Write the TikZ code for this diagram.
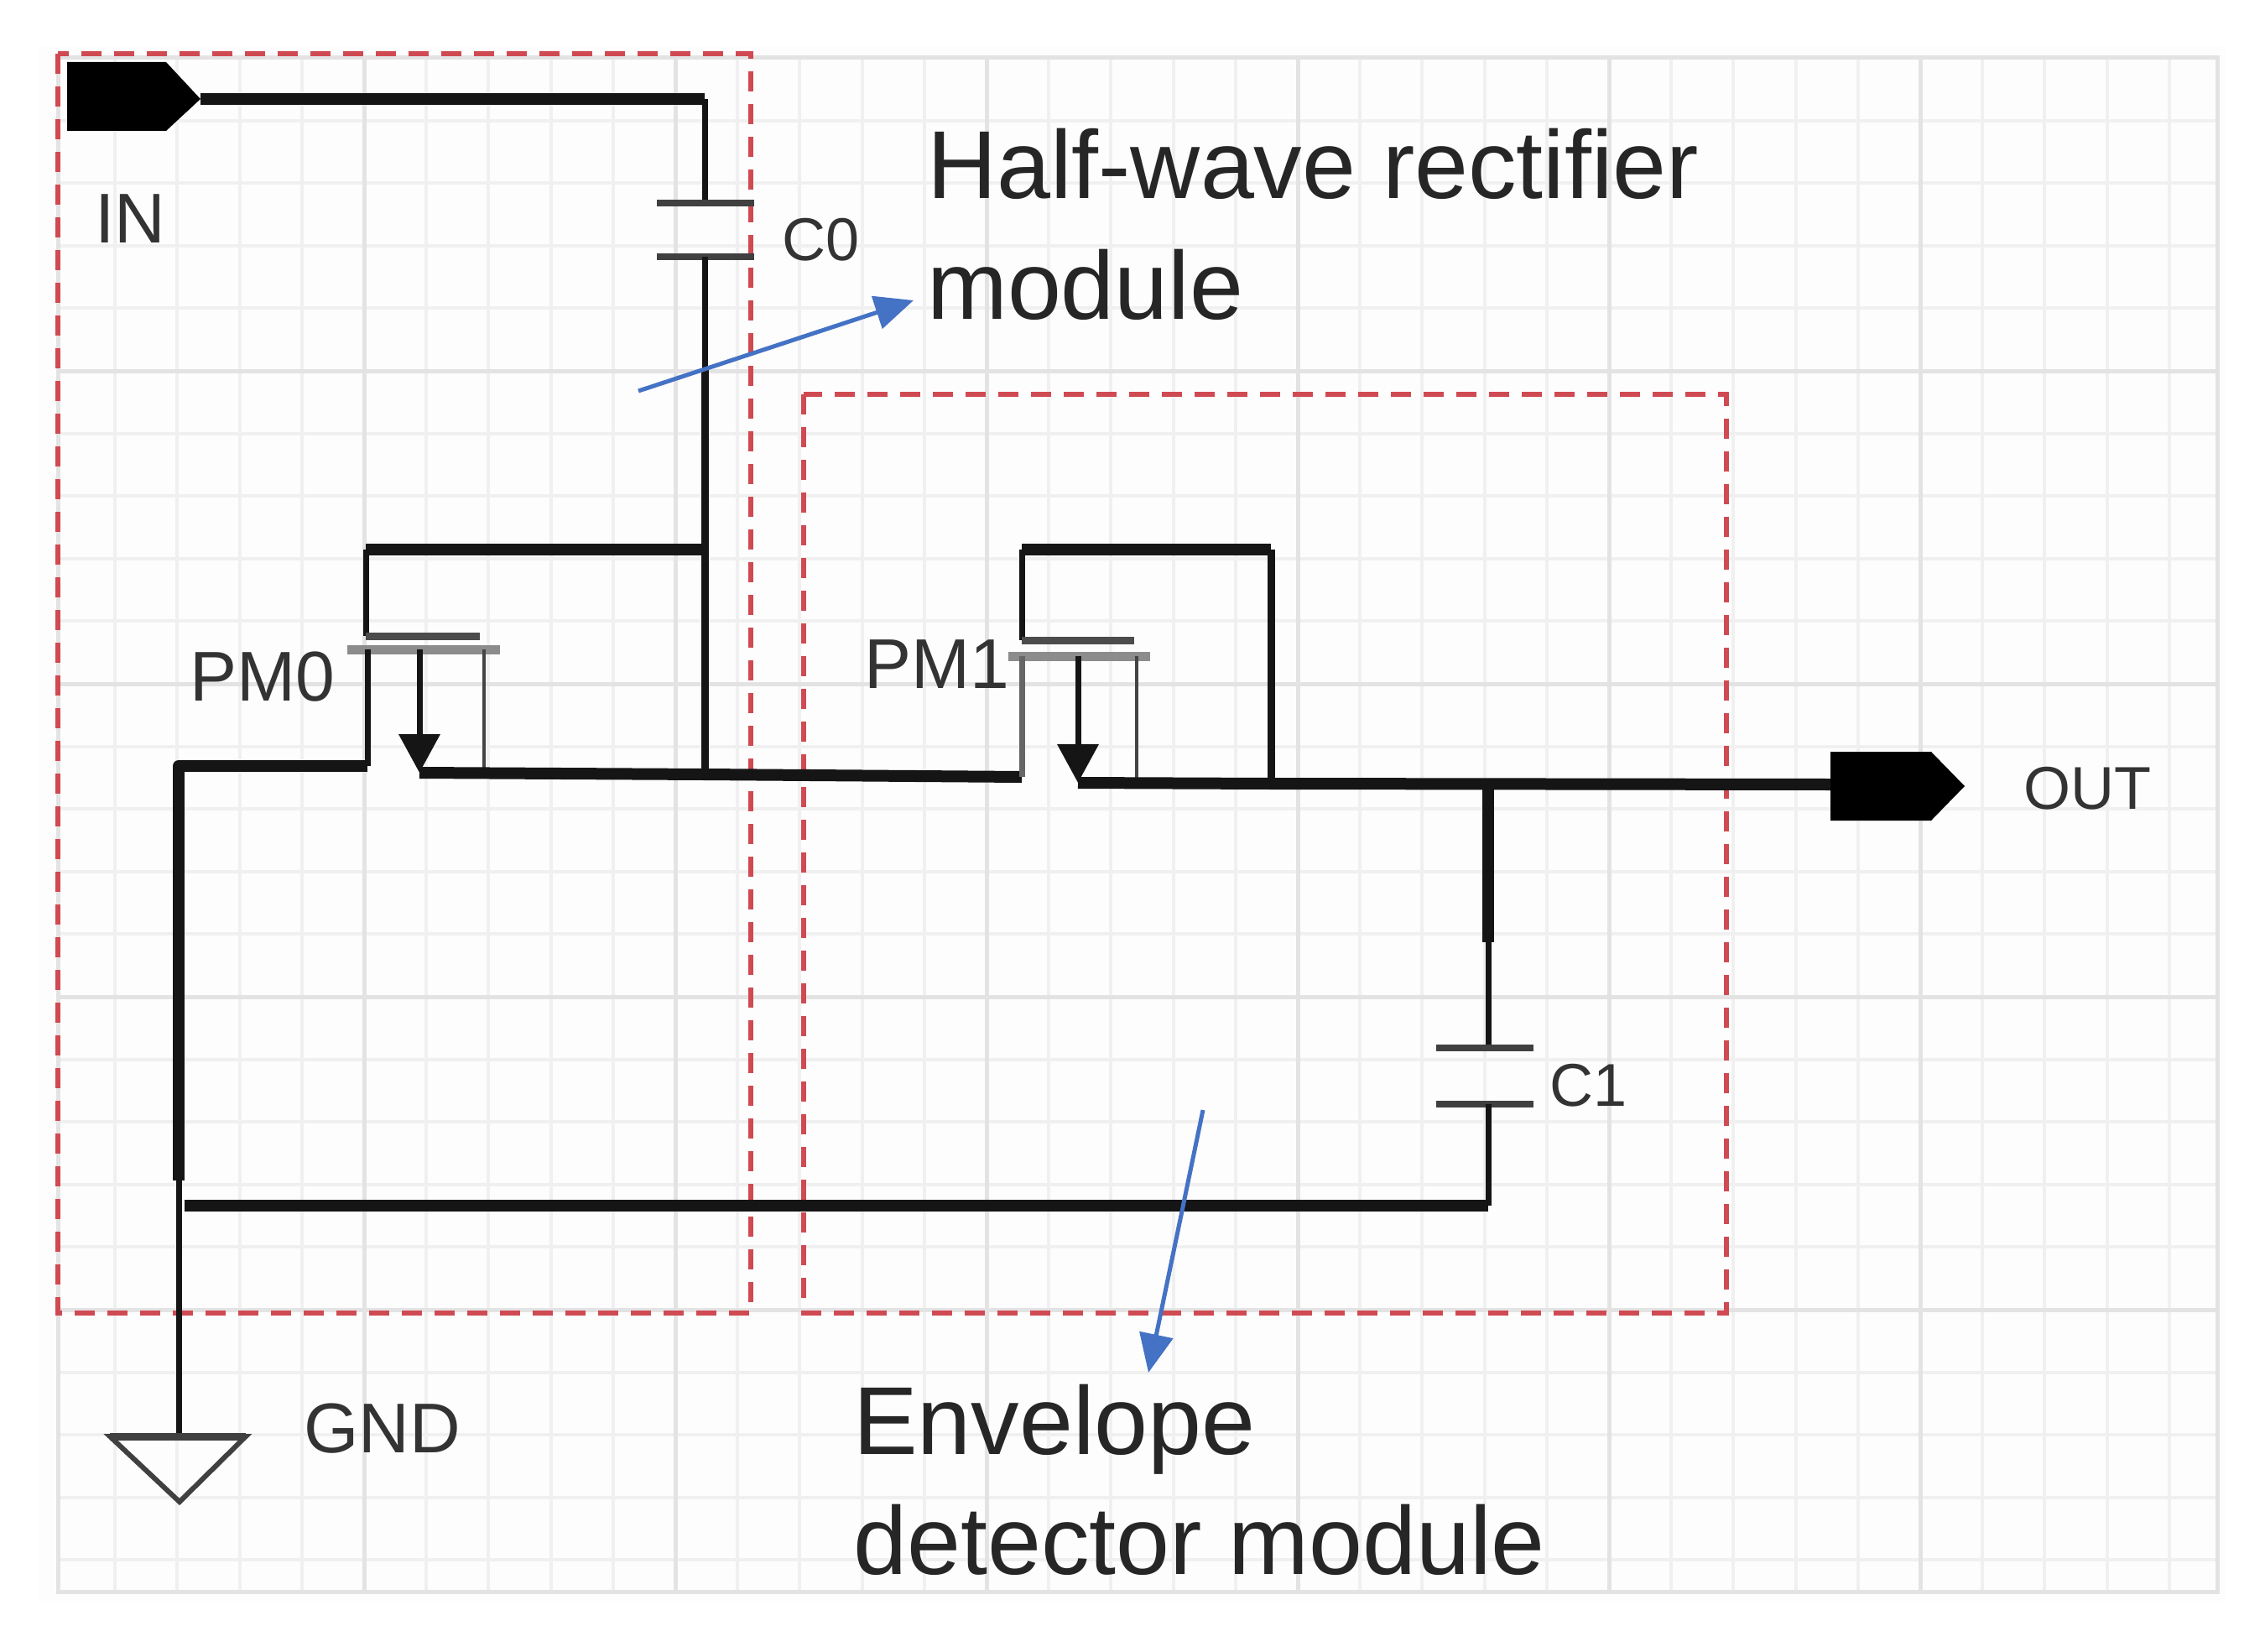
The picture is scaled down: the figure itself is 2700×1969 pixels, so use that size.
\documentclass[tikz,border=0pt]{standalone}
\usepackage{fontspec}
\setmainfont{Liberation Sans}
\usetikzlibrary{arrows.meta}
\definecolor{gridminor}{HTML}{F0F0F0}
\definecolor{gridmajor}{HTML}{E3E3E3}
\definecolor{boxred}{HTML}{CF4A52}
\definecolor{arrowblue}{HTML}{4472C4}
\definecolor{wire}{HTML}{151515}
\definecolor{labelgray}{HTML}{333333}
\tikzset{
  minorgrid/.style={gridminor,line width=4pt},
  majorgrid/.style={gridmajor,line width=5pt},
  modulebox/.style={boxred,line width=6pt,dash pattern=on 24pt off 15pt},
  thickwire/.style={wire,line width=14pt,line join=round},
  thinwire/.style={wire,line width=7pt},
  hairwire/.style={wire!80,line width=4pt},
  plate/.style={black!75,line width=8pt},
  channel/.style={black!45,line width=11pt},
  gatebar/.style={black!70,line width=9pt},
  pin/.style={fill=black,draw=none},
  srcarrow/.style={wire,line width=7pt,-{Triangle[length=46pt,width=48pt]}},
  callout/.style={arrowblue,line width=5pt,-{Triangle[length=46pt,width=40pt]}},
  biglabel/.style={anchor=base west,inner sep=0pt,text=black!85,font=\fontsize{115}{120}\selectfont},
  smalllabel/.style={anchor=base west,inner sep=0pt,text=labelgray,font=\fontsize{84}{90}\selectfont},
  narrowlabel/.style={anchor=base west,inner sep=0pt,text=labelgray,font=\fontsize{72}{80}\selectfont},
}
\begin{document}
\begin{tikzpicture}[x=1pt,y=-1pt]
\useasboundingbox (0,0) rectangle (2700,1969);
\fill[white] (0,0) rectangle (2700,1969);
\fill[black!0.6] (45,55) rectangle (2652,1908);
% grid
\foreach \k in {1,...,34} \draw[minorgrid] ({63+74.2*\k},69) -- ({63+74.2*\k},1897);
\foreach \k in {1,...,24} \draw[minorgrid] (69,{69+74.6*\k}) -- (2643,{69+74.6*\k});
\foreach \k in {5,10,...,30} \draw[majorgrid] ({63+74.2*\k},69) -- ({63+74.2*\k},1897);
\foreach \k in {5,10,15,20} \draw[majorgrid] (69,{69+74.6*\k}) -- (2643,{69+74.6*\k});
\draw[majorgrid] (69,69) rectangle (2643,1897);
% named points
\coordinate (inpin) at (239,118);
\coordinate (c0in) at (840,118);
\coordinate (c0top) at (840,242);
\coordinate (c0bot) at (840,306);
\coordinate (c0mid) at (840,440);
\coordinate (gtie0) at (840,655);
\coordinate (midnode) at (840,923);
\coordinate (g0) at (436,655);
\coordinate (g0b) at (436,758);
\coordinate (d0t) at (438,774);
\coordinate (d0b) at (438,913);
\coordinate (gl) at (213,913);
\coordinate (glm) at (213,1407);
\coordinate (gnd) at (213,1712);
\coordinate (s0t) at (500,774);
\coordinate (s0b) at (500,921);
\coordinate (b0t) at (577,774);
\coordinate (b0b) at (577,921);
\coordinate (d1t) at (1218,782);
\coordinate (d1b) at (1218,926);
\coordinate (g1b) at (1218,763);
\coordinate (g1) at (1218,655);
\coordinate (g1r) at (1515,655);
\coordinate (out1) at (1515,933);
\coordinate (s1t) at (1285,782);
\coordinate (s1b) at (1285,933);
\coordinate (b1t) at (1355,782);
\coordinate (b1b) at (1355,933);
\coordinate (outpin) at (2182,935);
\coordinate (c1j) at (1774,934);
\coordinate (c1m) at (1774,1123);
\coordinate (c1top) at (1774,1249);
\coordinate (c1bot) at (1774,1316);
\coordinate (c1g) at (1774,1437);
\coordinate (grail) at (220,1437);
% module boxes
\node[draw=none,inner sep=0pt] (box1a) at (69,64) {};
\node[draw=none,inner sep=0pt] (box1b) at (895,1565) {};
\node[draw=none,inner sep=0pt] (box2a) at (958,470) {};
\node[draw=none,inner sep=0pt] (box2b) at (2058,1565) {};
\draw[modulebox] (box1a.center) rectangle (box1b.center);
\draw[modulebox] (box2a.center) rectangle (box2b.center);
% IN pin and C0
\fill[pin] (80,74) -- (198,74) -- (inpin) -- (198,156) -- (80,156) -- cycle;
\draw[thickwire] (inpin) -- (c0in);
\draw[thinwire] (c0in) -- (c0top);
\draw[plate] (783,242) -- (899,242);
\draw[plate] (783,306) -- (899,306);
\draw[thinwire] (c0bot) -- (c0mid);
\draw[wire,line width=9pt] (c0mid) -- (midnode);
% PM0
\draw[thickwire] (gtie0) -- (g0);
\draw[thinwire] (g0) -- (g0b);
\draw[gatebar] (436,758) -- (572,758);
\draw[channel] (414,774) -- (596,774);
\draw[thinwire] (d0t) -- (d0b);
\draw[thickwire] (d0b) -- (gl) -- (glm);
\draw[srcarrow] (s0t) -- (s0b);
\draw[hairwire] (b0t) -- (b0b);
\draw[thickwire] (s0b) -- (840,923) -- (d1b);
% PM1
\draw[thickwire] (g1) -- (g1r);
\draw[thinwire] (g1) -- (g1b);
\draw[gatebar] (1218,763) -- (1352,763);
\draw[channel] (1202,782) -- (1371,782);
\draw[thinwire,black!60] (d1t) -- (d1b);
\draw[srcarrow] (s1t) -- (s1b);
\draw[hairwire] (b1t) -- (b1b);
\draw[wire,line width=9pt] (g1r) -- (out1);
\draw[thickwire] (s1b) -- (1515,934) -- (outpin);
\fill[pin] (2182,896) -- (2302,896) -- (2342,937) -- (2302,978) -- (2182,978) -- cycle;
% C1
\draw[thickwire] (c1j) -- (c1m);
\draw[thinwire] (c1m) -- (c1top);
\draw[plate] (1712,1249) -- (1828,1249);
\draw[plate] (1712,1316) -- (1828,1316);
\draw[thinwire] (c1bot) -- (c1g);
\draw[thickwire] (c1g) -- (grail);
% GND
\draw[thinwire] (glm) -- (gnd);
\draw[black!75,line width=6pt,line join=miter] (131,1712) -- (293,1712) -- (214,1790) -- cycle;
\draw[black!75,line width=9pt] (131,1712) -- (293,1712);
% callouts
\coordinate (a1s) at (761,466);
\coordinate (a1e) at (1089,358);
\coordinate (a2s) at (1434,1323);
\coordinate (a2e) at (1369,1636);
\draw[callout] (a1s) -- (a1e);
\draw[callout] (a2s) -- (a2e);
% labels
\node[biglabel] (t1) at (1105,237) {Half-wave rectifier};
\node[biglabel] (t2) at (1105,380) {module};
\node[biglabel] (t3) at (1017,1733) {Envelope};
\node[biglabel] (t4) at (1017,1876) {detector module};
\node[smalllabel] (lin) at (113,289) {IN};
\node[narrowlabel] (lc0) at (932,310) {C0};
\node[smalllabel] (lpm0) at (226,835) {PM0};
\node[smalllabel] (lpm1) at (1030,820) {PM1};
\node[narrowlabel] (lout) at (2412,964) {OUT};
\node[smalllabel] (lgnd) at (362,1731) {GND};
\node[narrowlabel] (lc1) at (1847,1318) {C1};
\end{tikzpicture}
\end{document}
